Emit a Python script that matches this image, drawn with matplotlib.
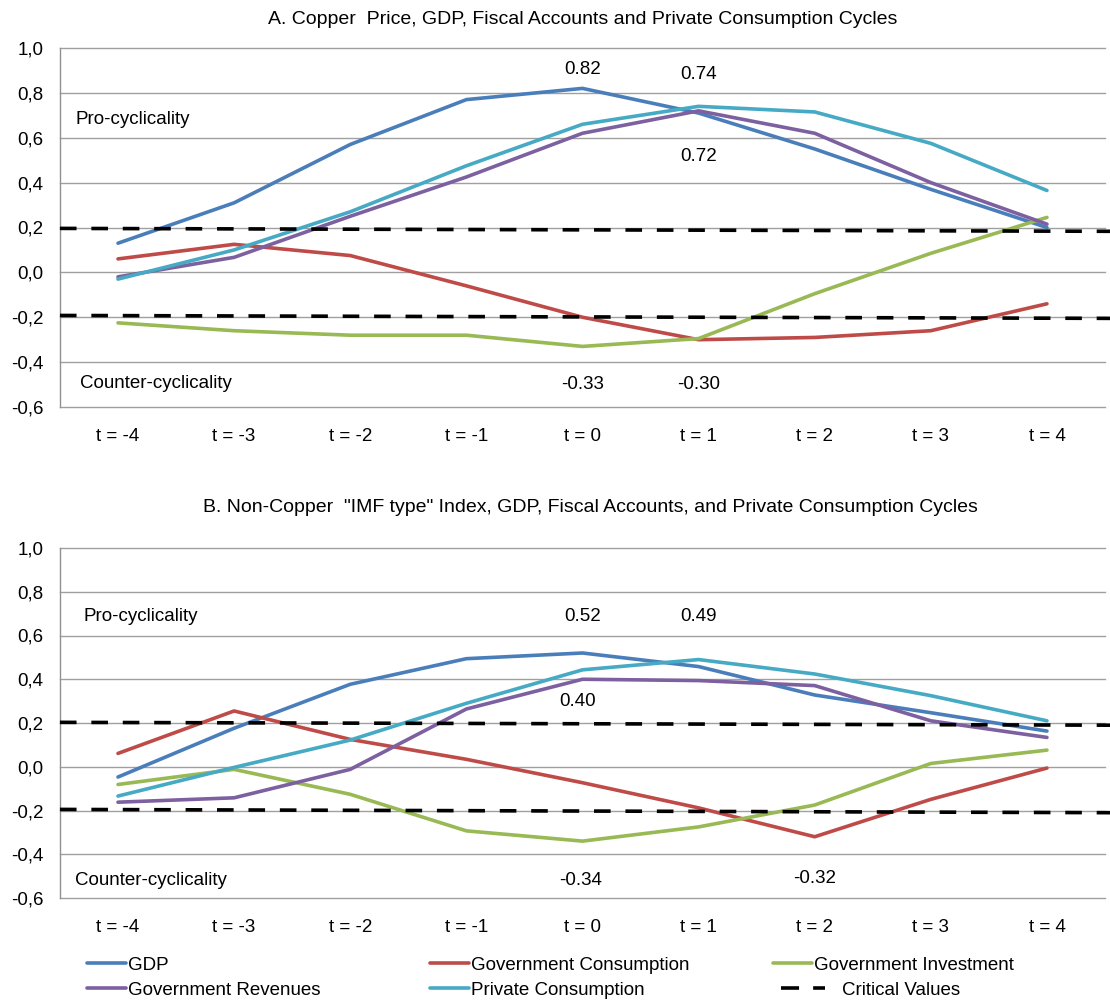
import matplotlib
matplotlib.use("Agg")
import matplotlib.pyplot as plt

plt.rcParams['font.family'] = ['Liberation Sans', 'DejaVu Sans']

periods = ["t = -4", "t = -3", "t = -2", "t = -1", "t = 0", "t = 1", "t = 2", "t = 3", "t = 4"]
yticks = [-0.6, -0.4, -0.2, 0.0, 0.2, 0.4, 0.6, 0.8, 1.0]
ytick_labels = ["-0,6", "-0,4", "-0,2", "0,0", "0,2", "0,4", "0,6", "0,8", "1,0"]

series_names = ["GDP", "Government Consumption", "Government Investment",
                "Government Revenues", "Private Consumption"]
series_colors = ["#4A7EBB", "#BE4B48", "#98B954", "#7D60A0", "#46AAC5"]

# Panel A: copper price cross-correlations
a_gdp = [0.13, 0.31, 0.57, 0.77, 0.82, 0.71, 0.55, 0.37, 0.20]
a_gov_cons = [0.06, 0.125, 0.075, -0.06, -0.20, -0.30, -0.29, -0.26, -0.14]
a_gov_inv = [-0.225, -0.26, -0.28, -0.28, -0.33, -0.295, -0.095, 0.085, 0.245]
a_gov_rev = [-0.02, 0.067, 0.25, 0.425, 0.62, 0.72, 0.62, 0.40, 0.215]
a_priv_cons = [-0.03, 0.10, 0.27, 0.475, 0.66, 0.74, 0.715, 0.575, 0.365]
a_critical_upper = [0.196, 0.183]
a_critical_lower = [-0.192, -0.205]

# Panel B: non-copper "IMF type" index cross-correlations
b_gdp = [-0.047, 0.176, 0.377, 0.494, 0.52, 0.458, 0.328, 0.247, 0.163]
b_gov_cons = [0.061, 0.255, 0.125, 0.034, -0.073, -0.188, -0.32, -0.149, -0.006]
b_gov_inv = [-0.081, -0.012, -0.126, -0.293, -0.34, -0.275, -0.175, 0.015, 0.076]
b_gov_rev = [-0.162, -0.142, -0.012, 0.264, 0.40, 0.394, 0.371, 0.21, 0.134]
b_priv_cons = [-0.134, -0.003, 0.122, 0.29, 0.443, 0.49, 0.424, 0.325, 0.21]
b_critical_upper = [0.203, 0.19]
b_critical_lower = [-0.195, -0.21]

a_title = "A. Copper  Price, GDP, Fiscal Accounts and Private Consumption Cycles"
b_title = 'B. Non-Copper  "IMF type" Index, GDP, Fiscal Accounts, and Private Consumption Cycles'

# value annotations: (period index, text position, text)
a_notes = [(4, 0.905, "0.82"), (5, 0.88, "0.74"), (5, 0.515, "0.72"),
           (4, -0.50, "-0.33"), (5, -0.50, "-0.30")]
b_notes = [(4, 0.685, "0.52"), (5, 0.685, "0.49"), (3.96, 0.30, "0.40"),
           (3.98, -0.52, "-0.34"), (6, -0.51, "-0.32")]

FS = 13.5
fig = plt.figure(figsize=(11.1, 10), dpi=100)
ax_a = fig.add_axes([0.054, 0.593, 0.9415, 0.359])
ax_b = fig.add_axes([0.054, 0.102, 0.9415, 0.350])

x = list(range(len(periods)))
DASH = (4.6, 4.1)


def draw_panel(ax, data, crit_up, crit_lo, pro_x, counter_x, pro_y, counter_y, notes):
    ax.set_xlim(-0.5, len(periods) - 0.5)
    ax.set_ylim(-0.6, 1.0)
    ax.set_yticks(yticks)
    ax.set_yticklabels(ytick_labels, fontsize=FS)
    ax.set_xticks(x)
    ax.set_xticklabels(periods, fontsize=FS)
    ax.tick_params(axis='both', length=0)
    ax.tick_params(axis='y', pad=12)
    ax.tick_params(axis='x', pad=15)
    for yv in yticks:
        ax.axhline(yv, color="#A0A0A0", lw=1.0, zorder=1, clip_on=False)
    for s in ["top", "right", "bottom"]:
        ax.spines[s].set_visible(False)
    ax.spines["left"].set_color("#909090")
    ax.spines["left"].set_linewidth(1.0)
    lines = []
    for vals, col, name in zip(data, series_colors, series_names):
        ln, = ax.plot(x, vals, color=col, lw=2.6, solid_capstyle='round',
                      zorder=3, label=name)
        lines.append(ln)
    xr = [-0.5, len(periods) - 0.45]
    cv, = ax.plot(xr, crit_up, color="black", lw=2.6, dashes=DASH,
                  zorder=4, clip_on=False, label="Critical Values")
    ax.plot(xr, crit_lo, color="black", lw=2.6, dashes=DASH,
            zorder=4, clip_on=False)
    for xi, yv, txt in notes:
        ax.text(xi, yv, txt, ha="center", va="center", fontsize=FS)
    ax.text(pro_x, pro_y, "Pro-cyclicality", ha="left", va="center", fontsize=FS)
    ax.text(counter_x, counter_y, "Counter-cyclicality", ha="left", va="center", fontsize=FS)
    return lines, cv


lines, cv = draw_panel(ax_a, [a_gdp, a_gov_cons, a_gov_inv, a_gov_rev, a_priv_cons],
                       a_critical_upper, a_critical_lower,
                       -0.37, -0.33, 0.68, -0.495, a_notes)
draw_panel(ax_b, [b_gdp, b_gov_cons, b_gov_inv, b_gov_rev, b_priv_cons],
           b_critical_upper, b_critical_lower,
           -0.3, -0.37, 0.685, -0.52, b_notes)

fig.text(0.525, 1 - 19 / 1000, a_title, ha="center", va="center", fontsize=14)
fig.text(0.532, 1 - 507 / 1000, b_title, ha="center", va="center", fontsize=14)

# legend: three columns of two entries each
legend_slots = [
    (lines[0], 0.078, 0.035, 0.1, 2.1), (lines[3], 0.078, 0.010, 0.1, 2.1),
    (lines[1], 0.387, 0.035, 0.1, 2.1), (lines[4], 0.387, 0.010, 0.1, 2.1),
    (lines[2], 0.696, 0.035, 0.1, 2.1), (cv, 0.704, 0.010, 0.95, 2.3),
]
for handle, lx, ly, pad, hl in legend_slots:
    leg = fig.legend([handle], [handle.get_label()], loc="center left",
                     bbox_to_anchor=(lx, ly), frameon=False, fontsize=FS,
                     handlelength=hl, handletextpad=pad, borderaxespad=0,
                     borderpad=0)
    for lh in leg.get_lines():
        if handle is cv:
            lh.set_dashes((5.0, 3.9))

fig.savefig("out.png", dpi=100)
